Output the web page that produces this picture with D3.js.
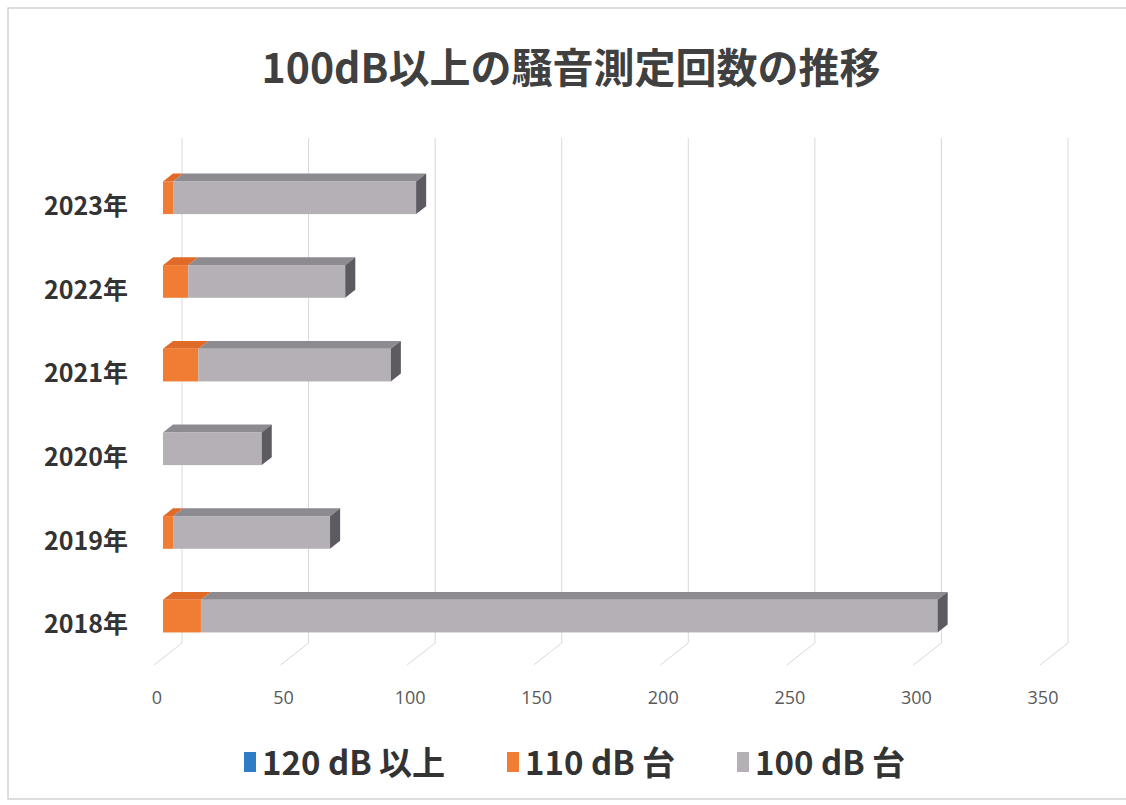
<!DOCTYPE html>
<html><head><meta charset="utf-8">
<script src="https://cdn.jsdelivr.net/npm/d3@7/dist/d3.min.js"></script>
<style>body{margin:0;background:#fff}svg{display:block}</style>
</head><body>
<svg id="c" width="1126" height="805"></svg>
<script>
const categories = ["2018年","2019年","2020年","2021年","2022年","2023年"];
const s120 = [0,0,0,0,0,0];
const s110 = [15,4,0,14,10,4];
const s100 = [291,62,39,76,62,96];
const seriesNames = ["120 dB 以上","110 dB 台","100 dB 台"];
const xTicks = [0,50,100,150,200,250,300,350];
const titleText = "100dB以上の騒音測定回数の推移";

const svg = d3.select("#c");
const W = 1126, H = 805;
svg.append("rect").attr("x",8).attr("y",8).attr("width",W+10).attr("height",H-14)
  .attr("fill","#fff").attr("stroke","#c8c8c8").attr("stroke-width",1.2);

const x = d3.scaleLinear().domain([0,350]).range([182,1068]);
const y = d3.scaleBand().domain(categories.slice().reverse()).range([141,643])
  .paddingInner(0.61).paddingOuter(0.305);
const DX = -28, DY = 22; // full depth offset (back -> front)
const zF = 0.68, zB = 0.32;
const P = (v, yy, z) => [x(v) + DX*z, yy + DY*z];

// title
svg.append("text").attr("x",571).attr("y",83).attr("text-anchor","middle")
  .attr("font-family","'Noto Sans CJK JP'").attr("font-weight","bold")
  .attr("font-size",41).attr("fill","#404040").text(titleText);

// grid on back wall
const g = svg.append("g");
xTicks.forEach(t=>{
  g.append("line").attr("x1",x(t)).attr("x2",x(t)).attr("y1",138).attr("y2",643)
   .attr("stroke","#d9d9d9").attr("stroke-width",1);
  const a = P(t,643,0), b = P(t,643,1);
  g.append("line").attr("x1",a[0]).attr("y1",a[1]).attr("x2",b[0]).attr("y2",b[1])
   .attr("stroke","#d9d9d9").attr("stroke-width",1);
});

// x labels
svg.append("g").selectAll("text").data(xTicks).join("text")
  .attr("x",d=>x(d)+DX+3).attr("y",704).attr("text-anchor","middle")
  .attr("font-family","'Open Sans'").attr("font-size",18).attr("fill","#595959")
  .text(d=>d);

// y labels
svg.append("g").selectAll("text").data(categories).join("text")
  .attr("x",128).attr("y",d=>y(d)+y.bandwidth()/2+DY+10).attr("text-anchor","end")
  .attr("font-family","'Noto Sans CJK JP'").attr("font-weight","bold")
  .attr("font-size",25).attr("fill","#333").text(d=>d);

// bars
const colors = [
  {front:"#2E7BC6", top:"#2466A6", side:"#1B4F82"},
  {front:"#F07D33", top:"#E06A28", side:"#B5521C"},
  {front:"#B4B0B5", top:"#8D8A90", side:"#5D5A62"}
];
const series = [s120, s110, s100];
const poly = pts => pts.map(p=>p.join(",")).join(" ");
const bars = svg.append("g");
categories.forEach((c,i)=>{
  const y0 = y(c), y1 = y(c)+y.bandwidth();
  let start = 0;
  const total = s120[i]+s110[i]+s100[i];
  series.forEach((s,k)=>{
    const v = s[i];
    if (v<=0) return;
    const a = start, b = start+v;
    bars.append("polygon").attr("points",poly([P(a,y0,zF),P(b,y0,zF),P(b,y0,zB),P(a,y0,zB)]))
      .attr("fill",colors[k].top);
    const f0 = P(a,y0,zF), f1 = P(b,y1,zF);
    bars.append("rect").attr("x",f0[0]).attr("y",f0[1]).attr("width",f1[0]-f0[0]).attr("height",f1[1]-f0[1])
      .attr("fill",colors[k].front);
    if (b===total){
      bars.append("polygon").attr("points",poly([P(b,y0,zF),P(b,y0,zB),P(b,y1,zB),P(b,y1,zF)]))
        .attr("fill",colors[k].side);
    }
    start = b;
  });
});

// legend
const legX = [244,507,737];
const leg = svg.append("g");
seriesNames.forEach((n,k)=>{
  leg.append("rect").attr("x",legX[k]).attr("y",752).attr("width",12).attr("height",20)
    .attr("fill",colors[k].front);
  leg.append("text").attr("x",legX[k]+18).attr("y",775)
    .attr("font-family","'Noto Sans CJK JP'").attr("font-weight","bold")
    .attr("font-size",33).attr("fill","#333").text(n);
});
</script>
</body></html>
